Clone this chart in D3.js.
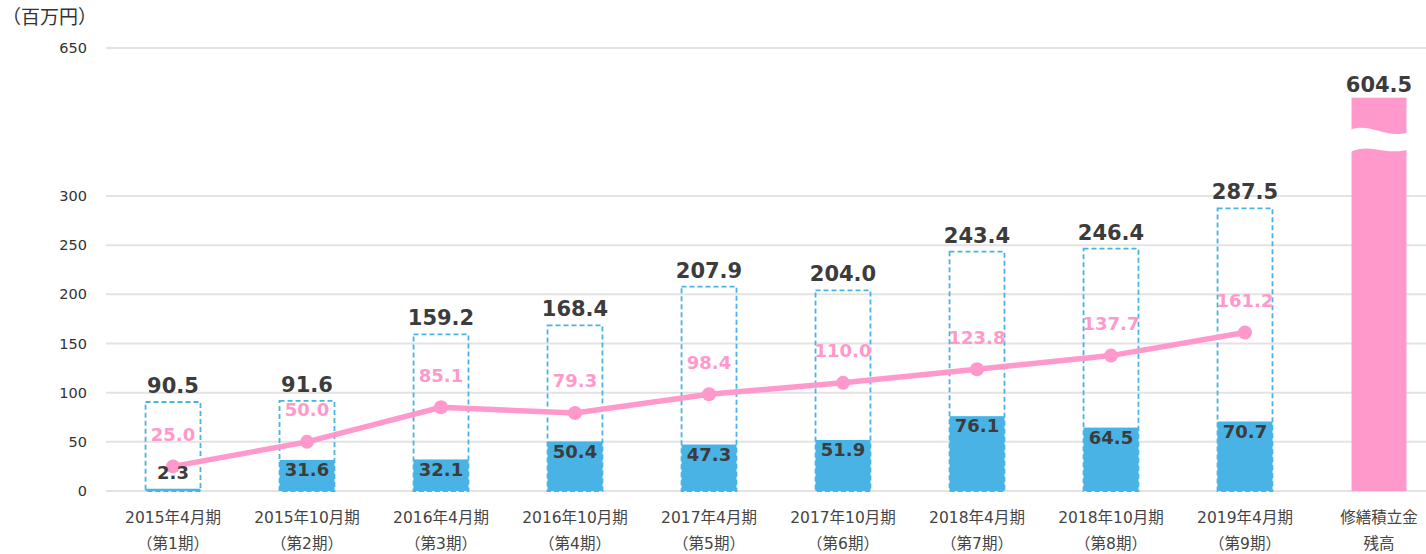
<!DOCTYPE html>
<html>
<head>
<meta charset="utf-8">
<script src="https://cdn.jsdelivr.net/npm/d3@7"></script>
<style>
  body { margin: 0; background: #fff; }
  svg { display: block; font-family: "DejaVu Sans", "Noto Sans CJK JP", sans-serif; }
</style>
</head>
<body>
<script>
// data
var periods = ["2015年4月期", "2015年10月期", "2016年4月期", "2016年10月期", "2017年4月期",
               "2017年10月期", "2018年4月期", "2018年10月期", "2019年4月期"];
var terms = ["（第1期）", "（第2期）", "（第3期）", "（第4期）", "（第5期）",
             "（第6期）", "（第7期）", "（第8期）", "（第9期）"];
var totals = [90.5, 91.6, 159.2, 168.4, 207.9, 204.0, 243.4, 246.4, 287.5];
var blueVals = [2.3, 31.6, 32.1, 50.4, 47.3, 51.9, 76.1, 64.5, 70.7];
var pinkVals = [25.0, 50.0, 85.1, 79.3, 98.4, 110.0, 123.8, 137.7, 161.2];
var balanceName = ["修繕積立金", "残高"];
var balanceVal = 604.5;
var yTicks = [0, 50, 100, 150, 200, 250, 300, 650];

var BLUE = "#4ab3e6", PINK = "#ff99cc", DARK = "#3c3c3c";
var W = 1426, H = 554;

var cats = periods.concat(["balance"]);
var x = d3.scaleBand().domain(cats).range([106, 1446]).paddingInner(0.59).paddingOuter(0.295);

// lower part is linear, the 650 line sits above a break
var yLow = d3.scaleLinear().domain([0, 300]).range([491, 196]);
var y = d3.scaleLinear().domain([0, 300, 650]).range([491, 196, 48]);
var balanceShown = 400; // the broken bar is drawn up to this height on the lower scale

var svg = d3.select("body").append("svg").attr("width", W).attr("height", H);

// grid
svg.append("g").selectAll("line").data(yTicks).enter().append("line")
    .attr("x1", 106).attr("x2", W)
    .attr("y1", function (d) { return y(d); }).attr("y2", function (d) { return y(d); })
    .attr("stroke", "#e3e3e3").attr("stroke-width", 2);

svg.append("g").selectAll("text").data(yTicks).enter().append("text")
    .attr("x", 87).attr("y", function (d) { return y(d); }).attr("dy", "0.35em")
    .attr("text-anchor", "end").attr("font-size", 14.5).attr("fill", "#333")
    .text(function (d) { return d; });

svg.append("text").attr("x", 2).attr("y", 24).attr("font-size", 19).attr("fill", "#333")
    .text("（百万円）");

var rows = periods.map(function (p, i) {
    return {p: p, t: terms[i], total: totals[i], blue: blueVals[i], pink: pinkVals[i]};
});

// dashed total boxes
svg.append("g").selectAll("rect").data(rows).enter().append("rect")
    .attr("x", function (d) { return x(d.p); })
    .attr("y", function (d) { return yLow(d.total); })
    .attr("width", x.bandwidth())
    .attr("height", function (d) { return yLow(0) - yLow(d.total); })
    .attr("fill", "none").attr("stroke", BLUE).attr("stroke-width", 1.8)
    .attr("stroke-dasharray", "5,3");

// filled blue bars
svg.append("g").selectAll("rect").data(rows).enter().append("rect")
    .attr("x", function (d) { return x(d.p); })
    .attr("y", function (d) { return yLow(d.blue); })
    .attr("width", x.bandwidth())
    .attr("height", function (d) { return yLow(0) - yLow(d.blue); })
    .attr("fill", BLUE);

// balance bar with wave break
var bx = x("balance"), bw = x.bandwidth();
svg.append("rect").attr("x", bx).attr("y", yLow(balanceShown)).attr("width", bw)
    .attr("height", yLow(0) - yLow(balanceShown)).attr("fill", PINK);
var wTop = yLow(balanceShown) + 32;
svg.append("path")
    .attr("d", "M" + (bx - 1) + "," + (wTop) +
        " C" + (bx + bw * 0.35) + "," + (wTop - 7) + " " + (bx + bw * 0.6) + "," + (wTop + 9) + " " + (bx + bw + 1) + "," + (wTop + 3) +
        " L" + (bx + bw + 1) + "," + (wTop + 20) +
        " C" + (bx + bw * 0.6) + "," + (wTop + 26) + " " + (bx + bw * 0.35) + "," + (wTop + 13) + " " + (bx - 1) + "," + (wTop + 22) + " Z")
    .attr("fill", "#fff");

// pink line
var line = d3.line()
    .x(function (d) { return x(d.p) + x.bandwidth() / 2; })
    .y(function (d) { return yLow(d.pink); });
svg.append("path").datum(rows).attr("d", line)
    .attr("fill", "none").attr("stroke", PINK).attr("stroke-width", 5.5);
svg.append("g").selectAll("circle").data(rows).enter().append("circle")
    .attr("cx", function (d) { return x(d.p) + x.bandwidth() / 2; })
    .attr("cy", function (d) { return yLow(d.pink); })
    .attr("r", 7).attr("fill", PINK);

// labels
var lbl = svg.append("g").attr("text-anchor", "middle").attr("font-weight", "bold");
lbl.selectAll(".tot").data(rows).enter().append("text")
    .attr("x", function (d) { return x(d.p) + x.bandwidth() / 2; })
    .attr("y", function (d) { return yLow(d.total) - 9; })
    .attr("font-size", 21).attr("fill", DARK)
    .text(function (d) { return d.total.toFixed(1); });
lbl.selectAll(".pk").data(rows).enter().append("text")
    .attr("x", function (d) { return x(d.p) + x.bandwidth() / 2; })
    .attr("y", function (d) { return yLow(d.pink) - 32; }).attr("dy", "0.35em")
    .attr("font-size", 18).attr("fill", PINK)
    .text(function (d) { return d.pink.toFixed(1); });
lbl.selectAll(".bl").data(rows).enter().append("text")
    .attr("x", function (d) { return x(d.p) + x.bandwidth() / 2; })
    .attr("y", function (d) { return Math.min(yLow(d.blue) + 10, yLow(0) - 18); }).attr("dy", "0.35em")
    .attr("font-size", 18).attr("fill", DARK)
    .text(function (d) { return d.blue.toFixed(1); });
lbl.append("text").attr("x", bx + bw / 2).attr("y", yLow(balanceShown) - 6)
    .attr("font-size", 21).attr("fill", DARK).text(balanceVal.toFixed(1));

// category labels
var cl = svg.append("g").attr("text-anchor", "middle").attr("font-size", 15.5).attr("fill", "#444");
rows.forEach(function (d) {
    var cx = x(d.p) + x.bandwidth() / 2;
    cl.append("text").attr("x", cx).attr("y", 518).attr("dy", "0.35em").text(d.p);
    cl.append("text").attr("x", cx).attr("y", 544).attr("dy", "0.35em").text(d.t);
});
balanceName.forEach(function (s, i) {
    cl.append("text").attr("x", bx + bw / 2).attr("y", 518 + 26 * i).attr("dy", "0.35em").text(s);
});
</script>
</body>
</html>
